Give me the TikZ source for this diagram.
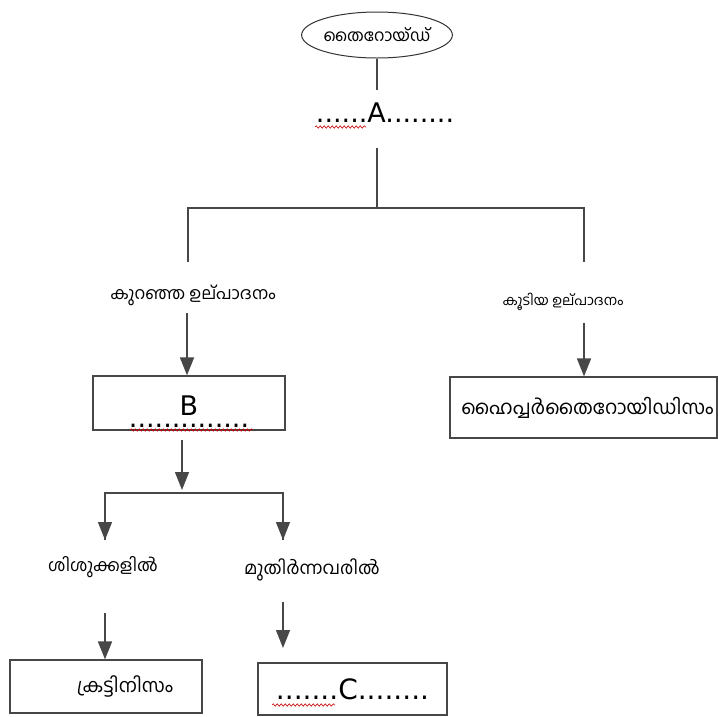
\documentclass[tikz,border=0pt]{standalone}
\usepackage{fontspec}
\setmainfont{DejaVu Sans}
\newfontfamily\ml[Script=Malayalam]{Hind Kochi}
\usetikzlibrary{arrows.meta,decorations.pathmorphing,shapes.geometric}
\newcommand\mlsize[1]{\ml\fontsize{#1}{#1}\selectfont}
\begin{document}
\begin{tikzpicture}[x=1pt,y=-1pt,
  conn/.style={draw=black!72, line width=1.4pt},
  arr/.style={conn,-{Triangle[width=14pt,length=18pt]}},
  box/.style={draw=black!72,line width=1.2pt,rectangle,inner sep=0pt},
  mltext/.style={inner sep=0pt},
  lat/.style={font=\fontsize{27}{30}\selectfont,inner sep=0pt},
  wavy/.style={draw=red!80!black,line width=0.6pt,decorate,decoration={snake,amplitude=1.2pt,segment length=4pt}}
]
\useasboundingbox (0,0) rectangle (718,716);
% top
\node[ellipse,draw=black!80,line width=1pt,minimum width=142pt,minimum height=46pt,inner sep=0pt,
      font=\mlsize{16.5}] (thy) at (377,35) {തൈറോയ്ഡ്};
\node[lat,anchor=base] (atext) at (385,122) {......A........};
\coordinate (a1) at (377,90);
\coordinate (a2) at (377,148);
\coordinate (j1) at (377,208);
\coordinate (jl) at (188,208);
\coordinate (jr) at (584,208);
\coordinate (el) at (188,262);
\coordinate (er) at (584,262);
\draw[conn] (thy.south) -- (a1);
\draw[conn] (a2) -- (j1);
\draw[conn] (el) -- (jl) -- (jr) -- (er);
% level 2
\node[mltext,font=\mlsize{17}] (low) at (193,295) {കുറഞ്ഞ ഉല്പാദനം};
\node[mltext,font=\mlsize{14}] (high) at (563,302) {കൂടിയ ഉല്പാദനം};
\coordinate (lowa) at (187,313);
\coordinate (higha) at (584,323);
\node[box,minimum width=192pt,minimum height=54pt] (bbox) at (189,403) {};
\node[inner sep=0pt,align=center,anchor=base,font=\fontsize{27}{12}\selectfont] (btext) at (189,427) {B\\..............};
\node[box,minimum width=267pt,minimum height=61pt,font=\mlsize{19.5}] (hyper) at (583.5,407.5) {\hspace*{8pt}ഹൈപ്പർതൈറോയിഡിസം};
\draw[arr] (lowa) -- (lowa |- bbox.north);
\draw[arr] (higha) -- (higha |- hyper.north);
% level 3
\coordinate (bs) at (182,440);
\coordinate (be) at (182,490);
\coordinate (hl) at (105,493);
\coordinate (hr) at (283,493);
\coordinate (hle) at (105,540);
\coordinate (hre) at (283,540);
\draw[arr] (bs) -- (be);
\draw[conn] (hle) -- (hl) -- (hr) -- (hre);
\draw[arr] (hl) -- (hle);
\draw[arr] (hr) -- (hre);
\node[mltext,font=\mlsize{17}] (child) at (103,567) {ശിശുക്കളിൽ};
\node[mltext,font=\mlsize{17.8}] (adult) at (312,570) {മുതിർന്നവരിൽ};
\coordinate (ca) at (105,613);
\coordinate (aa) at (283,602);
\coordinate (aae) at (283,648);
\node[box,minimum width=192pt,minimum height=53pt,font=\mlsize{19}] (cret) at (106,686.5) {\hspace*{38pt}ക്രട്ടിനിസം};
\node[box,minimum width=189pt,minimum height=52pt,lat,font=\fontsize{28}{30}\selectfont] (cbox) at (352.5,689) {.......C........};
\draw[arr] (ca) -- (ca |- cret.north);
\draw[arr] (aa) -- (aae);
% spell-check underlines
\coordinate (wa1) at (315,127); \coordinate (wa2) at (366,127);
\coordinate (wb1) at (130,430); \coordinate (wb2) at (253,430);
\coordinate (wc1) at (272,705); \coordinate (wc2) at (335,705);
\draw[wavy] (wa1) -- (wa2);
\draw[wavy] (wb1) -- (wb2);
\draw[wavy] (wc1) -- (wc2);
\end{tikzpicture}
\end{document}
